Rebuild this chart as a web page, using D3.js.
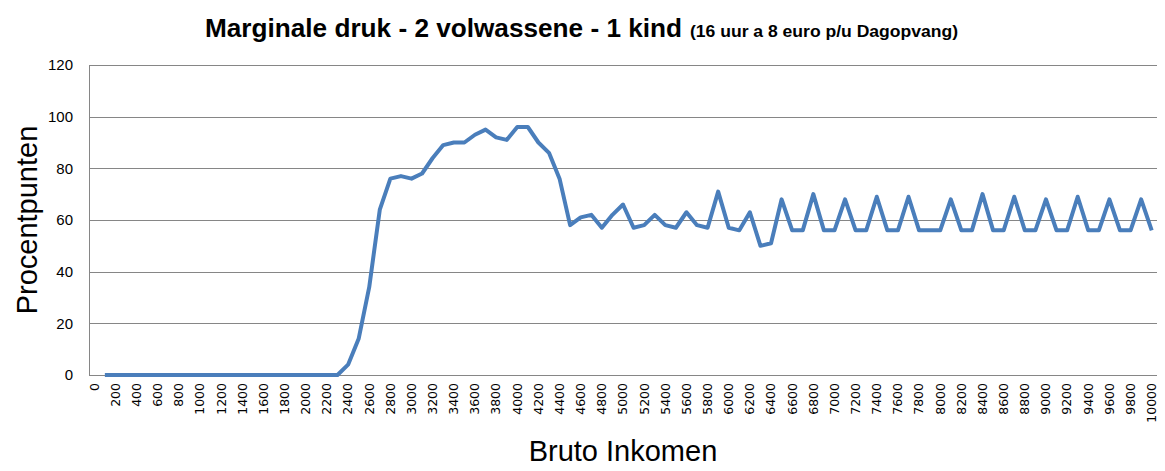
<!DOCTYPE html>
<html>
<head>
<meta charset="utf-8">
<script src="https://cdn.jsdelivr.net/npm/d3@7"></script>
<style>
  html, body { margin: 0; padding: 0; background: #fff; }
  svg { display: block; }
</style>
</head>
<body>
<div id="chart"></div>
<script>
// ---- data ----
const incomes = [0,100,200,300,400,500,600,700,800,900,1000,1100,1200,1300,1400,1500,1600,1700,1800,1900,2000,
  2100,2200,2300,2400,2500,2600,2700,2800,2900,3000,3100,3200,3300,3400,3500,3600,3700,3800,3900,4000,
  4100,4200,4300,4400,4500,4600,4700,4800,4900,5000,5100,5200,5300,5400,5500,5600,5700,5800,5900,6000,
  6100,6200,6300,6400,6500,6600,6700,6800,6900,7000,7100,7200,7300,7400,7500,7600,7700,7800,7900,8000,
  8100,8200,8300,8400,8500,8600,8700,8800,8900,9000,9100,9200,9300,9400,9500,9600,9700,9800,9900,10000];
const marginaleDruk = [null,0,0,0,0,0,0,0,0,0,0,0,0,0,0,0,0,0,0,0,0,
  0,0,0,4,14,34,64,76,77,76,78,84,89,90,90,93,95,92,91,96,
  96,90,86,76,58,61,62,57,62,66,57,58,62,58,57,63,58,57,71,57,
  56,63,50,51,68,56,56,70,56,56,68,56,56,69,56,56,69,56,56,56,
  68,56,56,70,56,56,69,56,56,68,56,56,69,56,56,68,56,56,68,56];
const yTicks = [0,20,40,60,80,100,120];
const titleMain = "Marginale druk - 2 volwassene - 1 kind";
const titleSub = "(16 uur a 8 euro p/u Dagopvang)";
const xTitle = "Bruto Inkomen";
const yTitle = "Procentpunten";

// ---- layout ----
const W = 1165, H = 471;
const plot = {left: 89, right: 1157, top: 65, bottom: 375};
const gridColor = "#868686";
const lineColor = "#4a7ebb";

const svg = d3.select("#chart").append("svg").attr("width", W).attr("height", H);

const x = d3.scaleBand().domain(incomes).range([plot.left, plot.right]).padding(0);
const y = d3.scaleLinear().domain([0, 120]).range([plot.bottom, plot.top]);

// gridlines + y labels
const yAxis = d3.axisLeft(y).tickValues(yTicks).tickSize(-(plot.right - plot.left)).tickPadding(16);
const gy = svg.append("g").attr("transform", `translate(${plot.left},0)`).call(yAxis);
gy.select(".domain").remove();
gy.selectAll(".tick line").attr("stroke", gridColor).attr("stroke-width", 1)
  .attr("shape-rendering", "crispEdges");
gy.selectAll(".tick text").attr("font-family", "Liberation Sans, Arial, sans-serif")
  .attr("font-size", 15).attr("fill", "#000");

// left axis line
svg.append("line").attr("x1", plot.left).attr("x2", plot.left)
  .attr("y1", plot.top).attr("y2", plot.bottom)
  .attr("stroke", gridColor).attr("shape-rendering", "crispEdges");

// x axis labels
const xAxis = d3.axisBottom(x).tickValues(incomes.filter(v => v % 200 === 0)).tickSize(0).tickPadding(0);
const gx = svg.append("g").attr("transform", `translate(0,${plot.bottom})`).call(xAxis);
gx.select(".domain").remove();
gx.selectAll(".tick text")
  .attr("font-family", "DejaVu Sans, Verdana, sans-serif")
  .attr("font-size", 12.5).attr("fill", "#000")
  .attr("text-anchor", "end")
  .attr("transform", "rotate(-90)")
  .attr("x", -8).attr("y", 0).attr("dy", "0.35em");

// line
const line = d3.line()
  .defined(d => d[1] !== null)
  .x(d => x(d[0]) + x.bandwidth() / 2)
  .y(d => y(d[1]));
svg.append("path")
  .datum(incomes.map((v, i) => [v, marginaleDruk[i]]))
  .attr("fill", "none").attr("stroke", lineColor)
  .attr("stroke-width", 4).attr("stroke-linejoin", "round").attr("stroke-linecap", "butt")
  .attr("d", line);

// title
svg.append("text").attr("x", 205).attr("y", 37)
  .attr("font-family", "Liberation Sans, Arial, sans-serif").attr("font-weight", "bold")
  .attr("font-size", 25).attr("textLength", 477).attr("lengthAdjust", "spacingAndGlyphs")
  .text(titleMain);
svg.append("text").attr("x", 690).attr("y", 37)
  .attr("font-family", "Liberation Sans, Arial, sans-serif").attr("font-weight", "bold")
  .attr("font-size", 16).attr("textLength", 268).attr("lengthAdjust", "spacingAndGlyphs")
  .text(titleSub);

// axis titles
svg.append("text").attr("x", (plot.left + plot.right) / 2).attr("y", 461)
  .attr("text-anchor", "middle").attr("font-family", "Liberation Sans, Arial, sans-serif")
  .attr("font-size", 29).attr("fill", "#000").text(xTitle);
svg.append("text")
  .attr("transform", `translate(37,${(plot.top + plot.bottom) / 2}) rotate(-90)`)
  .attr("text-anchor", "middle").attr("font-family", "Liberation Sans, Arial, sans-serif")
  .attr("font-size", 29).attr("fill", "#000").text(yTitle);
</script>
</body>
</html>
